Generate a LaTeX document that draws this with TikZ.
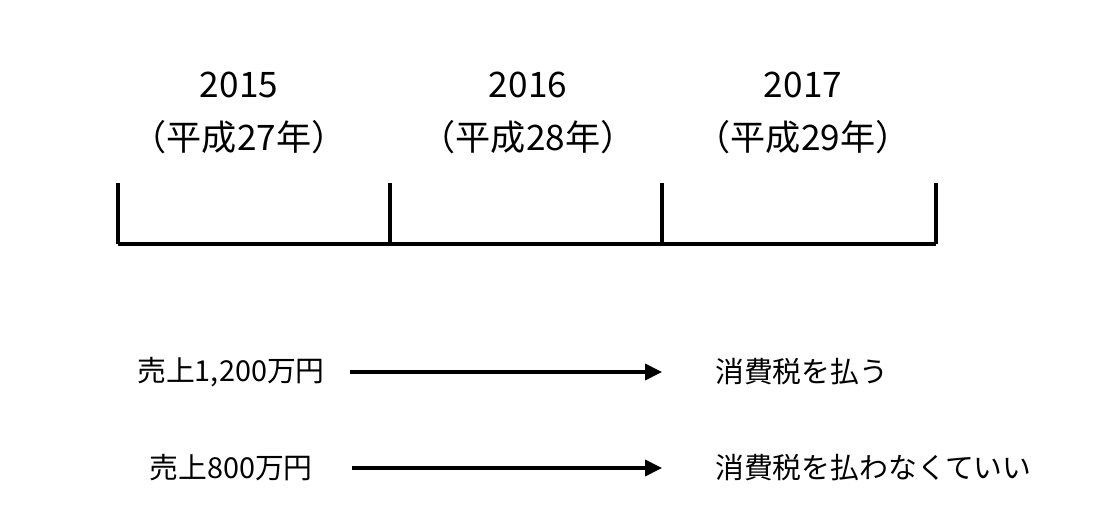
\documentclass[tikz,border=0pt]{standalone}
\usepackage{fontspec}
\setmainfont{Noto Sans CJK JP}
\usepackage{tikz}
\usetikzlibrary{arrows.meta, positioning}

\begin{document}
\begin{tikzpicture}[
        x=0.025cm, y=-0.025cm,
        year/.style={inner sep=0pt, font=\fontsize{25}{28}\selectfont},
        label/.style={inner sep=0pt, font=\fontsize{20.5}{24}\selectfont},
        axis/.style={line width=2.5pt},
        arr/.style={line width=2.3pt, -{Triangle[length=0.42cm, width=0.4cm]}},
    ]
    \useasboundingbox (0,0) rectangle (1098,532);
    % years
    \node[year] (y2015) at (239,85)  {2015};
    \node[year] (h27)   at (239,137) {（平成27年）};
    \node[year] (y2016) at (528,85)  {2016};
    \node[year] (h28)   at (528,137) {（平成28年）};
    \node[year] (y2017) at (803,85)  {2017};
    \node[year] (h29)   at (803,137) {（平成29年）};
    % timeline
    \coordinate (t0) at (118,244);
    \coordinate (t1) at (390,244);
    \coordinate (t2) at (662,244);
    \coordinate (t3) at (936,244);
    \draw[axis] (t0) -- (t3);
    \foreach \t in {t0,t1,t2,t3}
        \draw[axis] (\t) -- ++(0,-61);
    % sales
    \node[label] (sale1) at (231,372) {売上1,200万円};
    \node[label] (sale2) at (231,468) {売上800万円};
    \node[label, anchor=west] (tax1) at (715,372) {消費税を払う};
    \node[label, anchor=west] (tax2) at (715,468) {消費税を払わなくていい};
    \draw[arr, shorten <=0.625cm, shorten >=1.325cm] (sale1.east) -- (tax1.west);
    \draw[arr, shorten <=0.975cm, shorten >=1.325cm] (sale2.east) -- (tax2.west);
\end{tikzpicture}
\end{document}
